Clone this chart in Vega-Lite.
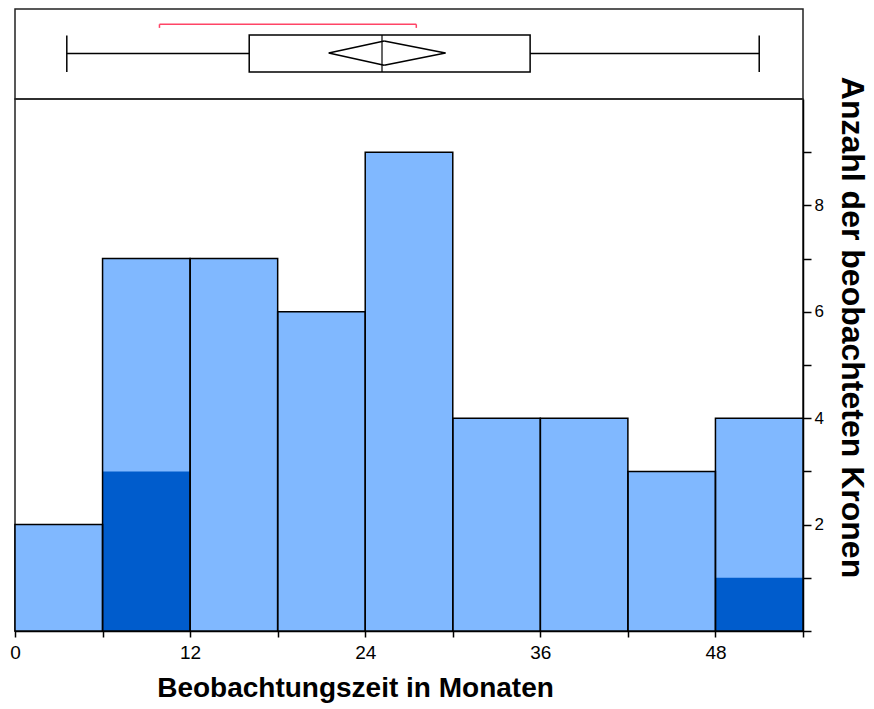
{
  "$schema": "https://vega.github.io/schema/vega-lite/v6.json",
  "padding": {"left": 8, "top": 8, "right": 5, "bottom": 5},
  "background": "white",
  "spacing": 0,
  "bounds": "flush",
  "config": {
    "font": "Arial",
    "view": {"stroke": "#222222", "strokeWidth": 1.5},
    "concat": {"spacing": 0}
  },
  "datasets": {
    "hist": [
      {"start": 0, "end": 6, "count": 2, "dark": 0},
      {"start": 6, "end": 12, "count": 7, "dark": 3},
      {"start": 12, "end": 18, "count": 7, "dark": 0},
      {"start": 18, "end": 24, "count": 6, "dark": 0},
      {"start": 24, "end": 30, "count": 9, "dark": 0},
      {"start": 30, "end": 36, "count": 4, "dark": 0},
      {"start": 36, "end": 42, "count": 4, "dark": 0},
      {"start": 42, "end": 48, "count": 3, "dark": 0},
      {"start": 48, "end": 54, "count": 4, "dark": 1}
    ],
    "stats": [
      {"min": 3.55, "q1": 16.05, "median": 25.15, "q3": 35.3, "max": 51.0, "mean": 25.3, "ci_lo": 21.5, "ci_hi": 29.5, "sh_lo": 9.9, "sh_hi": 27.5}
    ]
  },
  "vconcat": [
    {
      "width": 788,
      "height": 90,
      "data": {"name": "stats"},
      "layer": [
        {
          "mark": {"type": "rule", "color": "black", "strokeWidth": 1.5},
          "encoding": {
            "x": {"field": "min", "type": "quantitative", "scale": {"domain": [0, 54], "nice": false, "zero": false}, "axis": null},
            "x2": {"field": "max"},
            "y": {"datum": 0.505, "type": "quantitative", "scale": {"domain": [0, 1], "nice": false}, "axis": null}
          }
        },
        {
          "mark": {"type": "rule", "color": "black", "strokeWidth": 1.5},
          "encoding": {
            "x": {"field": "min", "type": "quantitative", "scale": {"domain": [0, 54], "nice": false, "zero": false}, "axis": null},
            "y": {"datum": 0.3, "type": "quantitative", "scale": {"domain": [0, 1], "nice": false}, "axis": null},
            "y2": {"datum": 0.705}
          }
        },
        {
          "mark": {"type": "rule", "color": "black", "strokeWidth": 1.5},
          "encoding": {
            "x": {"field": "max", "type": "quantitative", "scale": {"domain": [0, 54], "nice": false, "zero": false}, "axis": null},
            "y": {"datum": 0.3, "type": "quantitative", "scale": {"domain": [0, 1], "nice": false}, "axis": null},
            "y2": {"datum": 0.705}
          }
        },
        {
          "mark": {"type": "rect", "fill": "white", "stroke": "black", "strokeWidth": 1.5},
          "encoding": {
            "x": {"field": "q1", "type": "quantitative", "scale": {"domain": [0, 54], "nice": false, "zero": false}, "axis": null},
            "x2": {"field": "q3"},
            "y": {"datum": 0.3, "type": "quantitative", "scale": {"domain": [0, 1], "nice": false}, "axis": null},
            "y2": {"datum": 0.71}
          }
        },
        {
          "mark": {"type": "rule", "color": "black", "strokeWidth": 1.2},
          "encoding": {
            "x": {"field": "median", "type": "quantitative", "scale": {"domain": [0, 54], "nice": false, "zero": false}, "axis": null},
            "y": {"datum": 0.3, "type": "quantitative", "scale": {"domain": [0, 1], "nice": false}, "axis": null},
            "y2": {"datum": 0.71}
          }
        },
        {
          "mark": {"type": "rule", "color": "black", "strokeWidth": 1.5},
          "encoding": {
            "x": {"field": "ci_lo", "type": "quantitative", "scale": {"domain": [0, 54], "nice": false, "zero": false}, "axis": null},
            "x2": {"field": "mean"},
            "y": {"datum": 0.51, "type": "quantitative", "scale": {"domain": [0, 1], "nice": false}, "axis": null},
            "y2": {"datum": 0.645}
          }
        },
        {
          "mark": {"type": "rule", "color": "black", "strokeWidth": 1.5},
          "encoding": {
            "x": {"field": "mean", "type": "quantitative", "scale": {"domain": [0, 54], "nice": false, "zero": false}, "axis": null},
            "x2": {"field": "ci_hi"},
            "y": {"datum": 0.645, "type": "quantitative", "scale": {"domain": [0, 1], "nice": false}, "axis": null},
            "y2": {"datum": 0.51}
          }
        },
        {
          "mark": {"type": "rule", "color": "black", "strokeWidth": 1.5},
          "encoding": {
            "x": {"field": "ci_lo", "type": "quantitative", "scale": {"domain": [0, 54], "nice": false, "zero": false}, "axis": null},
            "x2": {"field": "mean"},
            "y": {"datum": 0.51, "type": "quantitative", "scale": {"domain": [0, 1], "nice": false}, "axis": null},
            "y2": {"datum": 0.375}
          }
        },
        {
          "mark": {"type": "rule", "color": "black", "strokeWidth": 1.5},
          "encoding": {
            "x": {"field": "mean", "type": "quantitative", "scale": {"domain": [0, 54], "nice": false, "zero": false}, "axis": null},
            "x2": {"field": "ci_hi"},
            "y": {"datum": 0.375, "type": "quantitative", "scale": {"domain": [0, 1], "nice": false}, "axis": null},
            "y2": {"datum": 0.51}
          }
        },
        {
          "mark": {"type": "rule", "color": "#ff4466", "strokeWidth": 1.5},
          "encoding": {
            "x": {"field": "sh_lo", "type": "quantitative", "scale": {"domain": [0, 54], "nice": false, "zero": false}, "axis": null},
            "x2": {"field": "sh_hi"},
            "y": {"datum": 0.83, "type": "quantitative", "scale": {"domain": [0, 1], "nice": false}, "axis": null}
          }
        },
        {
          "mark": {"type": "rule", "color": "#ff4466", "strokeWidth": 1.5},
          "encoding": {
            "x": {"field": "sh_lo", "type": "quantitative", "scale": {"domain": [0, 54], "nice": false, "zero": false}, "axis": null},
            "y": {"datum": 0.83, "type": "quantitative", "scale": {"domain": [0, 1], "nice": false}, "axis": null},
            "y2": {"datum": 0.79}
          }
        },
        {
          "mark": {"type": "rule", "color": "#ff4466", "strokeWidth": 1.5},
          "encoding": {
            "x": {"field": "sh_hi", "type": "quantitative", "scale": {"domain": [0, 54], "nice": false, "zero": false}, "axis": null},
            "y": {"datum": 0.83, "type": "quantitative", "scale": {"domain": [0, 1], "nice": false}, "axis": null},
            "y2": {"datum": 0.79}
          }
        }
      ]
    },
    {
      "width": 788,
      "height": 532,
      "data": {"name": "hist"},
      "encoding": {
        "x": {
          "field": "start",
          "type": "quantitative",
          "scale": {"domain": [0, 54], "nice": false, "zero": false},
          "axis": {
            "values": [0, 6, 12, 18, 24, 30, 36, 42, 48, 54],
            "labelExpr": "datum.value % 12 === 0 ? datum.label : ''",
            "labelFlush": false,
            "grid": false,
            "tickSize": 6,
            "tickColor": "black",
            "tickWidth": 1.5,
            "domainColor": "black",
            "domainWidth": 1.5,
            "labelFontSize": 19,
            "labelColor": "black",
            "labelPadding": 6,
            "title": "Beobachtungszeit in Monaten",
            "titleFontSize": 28,
            "titleFontWeight": "bold",
            "titleColor": "black",
            "titleX": 340,
            "titlePadding": 12
          }
        },
        "x2": {"field": "end"}
      },
      "layer": [
        {
          "mark": {"type": "bar", "fill": "#80B8FF", "strokeWidth": 0},
          "encoding": {
            "y": {
              "field": "count",
              "type": "quantitative",
              "scale": {"domain": [0, 10], "nice": false},
              "axis": {
                "orient": "right",
                "values": [0, 1, 2, 3, 4, 5, 6, 7, 8, 9],
                "labelExpr": "datum.value % 2 === 0 && datum.value > 0 ? datum.label : ''",
                "grid": false,
                "tickSize": 8,
                "tickColor": "black",
                "tickWidth": 1.5,
                "domainColor": "black",
                "domainWidth": 1.5,
                "labelFontSize": 17,
                "labelColor": "black",
                "labelPadding": 3,
                "titleFontSize": 32,
                "titleFontWeight": "bold",
                "titleColor": "black",
                "titleY": 228,
                "titlePadding": 11
              },
              "title": "Anzahl der beobachteten Kronen"
            },
            "y2": {"datum": 0}
          }
        },
        {
          "transform": [{"filter": "datum.dark > 0"}],
          "mark": {"type": "bar", "fill": "#005CCC", "strokeWidth": 0},
          "encoding": {
            "y": {"field": "dark", "type": "quantitative", "title": "Anzahl der beobachteten Kronen"},
            "y2": {"datum": 0}
          }
        },
        {
          "mark": {"type": "bar", "fill": "white", "fillOpacity": 0, "stroke": "black", "strokeWidth": 1.5},
          "encoding": {
            "y": {"field": "count", "type": "quantitative", "title": "Anzahl der beobachteten Kronen"},
            "y2": {"datum": 0}
          }
        }
      ]
    }
  ]
}
